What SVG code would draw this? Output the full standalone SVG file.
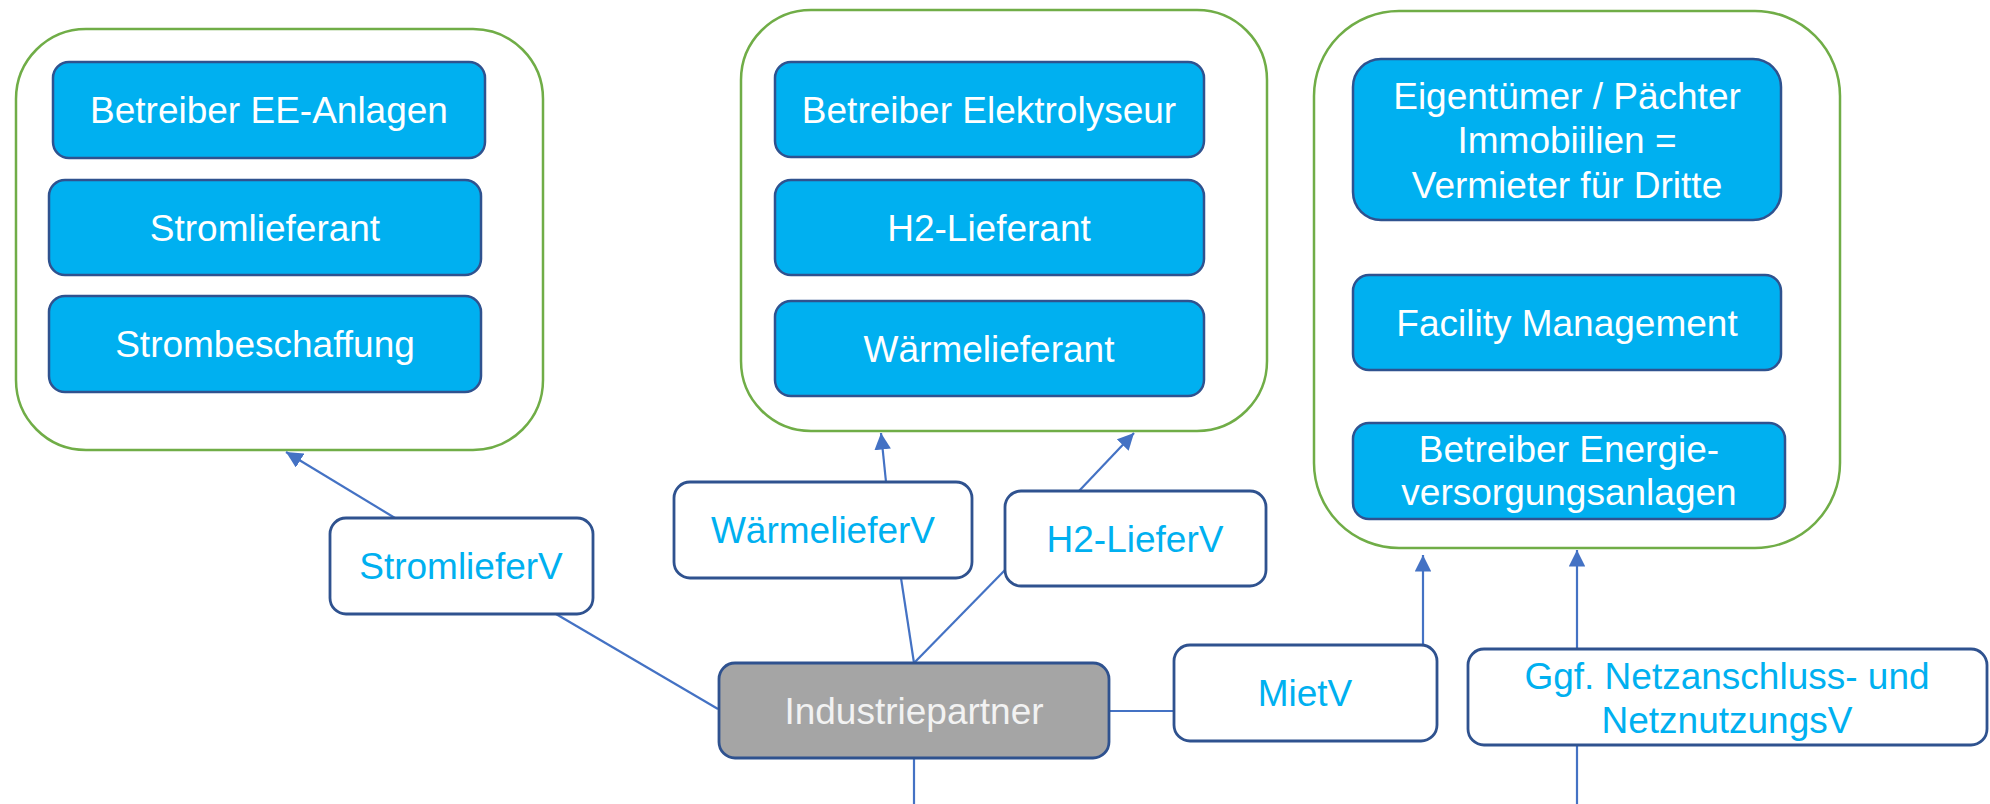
<svg xmlns="http://www.w3.org/2000/svg" width="1990" height="804" viewBox="0 0 1990 804">
<defs>
<style>
.grp{fill:#ffffff;stroke:#70ad47;stroke-width:2.5}
.role{fill:#00b0f0;stroke:#2f528f;stroke-width:2.5}
.lbl{fill:#ffffff;stroke:#2f528f;stroke-width:2.8}
.ind{fill:#a5a5a5;stroke:#2f528f;stroke-width:2.8}
.wt{font-family:"Liberation Sans",Arial,sans-serif;font-size:37px;fill:#ffffff;text-anchor:middle}
.bt{font-family:"Liberation Sans",Arial,sans-serif;font-size:37px;fill:#00b0f0;text-anchor:middle}
.it{font-family:"Liberation Sans",Arial,sans-serif;font-size:37px;fill:#f2f2f2;text-anchor:middle}
.con{stroke:#4472c4;stroke-width:2.2;fill:none}
.arr{stroke:#4472c4;stroke-width:2.2;fill:none;marker-end:url(#ah)}
</style>
<marker id="ah" viewBox="0 0 10 10" refX="10" refY="5" markerWidth="7.5" markerHeight="7.5" markerUnits="strokeWidth" orient="auto">
<path d="M0,0 L10,5 L0,10 z" fill="#4472c4"/>
</marker>
</defs>
<rect width="1990" height="804" fill="#ffffff"/>

<g id="group-strom">
<rect class="grp" x="16" y="29" width="527" height="421" rx="70" ry="70"/>
<g id="betreiber-ee"><rect class="role" x="53" y="62" width="432" height="96" rx="16"/><text class="wt" x="269" y="123">Betreiber EE-Anlagen</text></g>
<g id="stromlieferant"><rect class="role" x="49" y="180" width="432" height="95" rx="16"/><text class="wt" x="265" y="241">Stromlieferant</text></g>
<g id="strombeschaffung"><rect class="role" x="49" y="296" width="432" height="96" rx="16"/><text class="wt" x="265" y="357">Strombeschaffung</text></g>
</g>

<g id="group-h2">
<rect class="grp" x="741" y="10" width="526" height="421" rx="70" ry="70"/>
<g id="betreiber-elektrolyseur"><rect class="role" x="775" y="62" width="429" height="95" rx="16"/><text class="wt" x="989" y="123">Betreiber Elektrolyseur</text></g>
<g id="h2-lieferant"><rect class="role" x="775" y="180" width="429" height="95" rx="16"/><text class="wt" x="989" y="241">H2-Lieferant</text></g>
<g id="waermelieferant"><rect class="role" x="775" y="301" width="429" height="95" rx="16"/><text class="wt" x="989" y="362">Wärmelieferant</text></g>
</g>

<g id="group-immo">
<rect class="grp" x="1314" y="11" width="526" height="537" rx="85" ry="85"/>
<g id="eigentuemer"><rect class="role" x="1353" y="59" width="428" height="161" rx="28"/>
<text class="wt" x="1567" y="109">Eigentümer / Pächter</text>
<text class="wt" x="1567" y="153">Immobiilien =</text>
<text class="wt" x="1567" y="198">Vermieter für Dritte</text></g>
<g id="facility"><rect class="role" x="1353" y="275" width="428" height="95" rx="16"/><text class="wt" x="1567" y="336">Facility Management</text></g>
<g id="betreiber-energie"><rect class="role" x="1353" y="423" width="432" height="96" rx="16"/>
<text class="wt" x="1569" y="462">Betreiber Energie-</text>
<text class="wt" x="1569" y="505">versorgungsanlagen</text></g>
</g>

<g id="connectors">
<line class="arr" x1="395" y1="518" x2="286" y2="452"/>
<line class="con" x1="556" y1="614" x2="718" y2="709"/>
<line class="con" x1="914" y1="663" x2="901" y2="578"/>
<line class="arr" x1="886" y1="482" x2="881" y2="433"/>
<line class="con" x1="914" y1="663" x2="1005" y2="570"/>
<line class="arr" x1="1079" y1="491" x2="1134" y2="433"/>
<line class="con" x1="1109" y1="711" x2="1174" y2="711"/>
<line class="arr" x1="1423" y1="645" x2="1423" y2="555"/>
<line class="arr" x1="1577" y1="650" x2="1577" y2="550"/>
<line class="con" x1="1577" y1="745" x2="1577" y2="804"/>
<line class="con" x1="914" y1="758" x2="914" y2="804"/>
</g>

<g id="stromlieferv"><rect class="lbl" x="330" y="518" width="263" height="96" rx="16"/><text class="bt" x="461" y="579">StromlieferV</text></g>
<g id="waermelieferv"><rect class="lbl" x="674" y="482" width="298" height="96" rx="16"/><text class="bt" x="823" y="543">WärmelieferV</text></g>
<g id="h2-lieferv"><rect class="lbl" x="1005" y="491" width="261" height="95" rx="16"/><text class="bt" x="1135" y="552">H2-LieferV</text></g>
<g id="industriepartner"><rect class="ind" x="719" y="663" width="390" height="95" rx="16"/><text class="it" x="914" y="724">Industriepartner</text></g>
<g id="mietv"><rect class="lbl" x="1174" y="645" width="263" height="96" rx="16"/><text class="bt" x="1305" y="706">MietV</text></g>
<g id="netzv"><rect class="lbl" x="1468" y="649" width="519" height="96" rx="16"/>
<text class="bt" x="1727" y="689">Ggf. Netzanschluss- und</text>
<text class="bt" x="1727" y="733">NetznutzungsV</text></g>
</svg>
